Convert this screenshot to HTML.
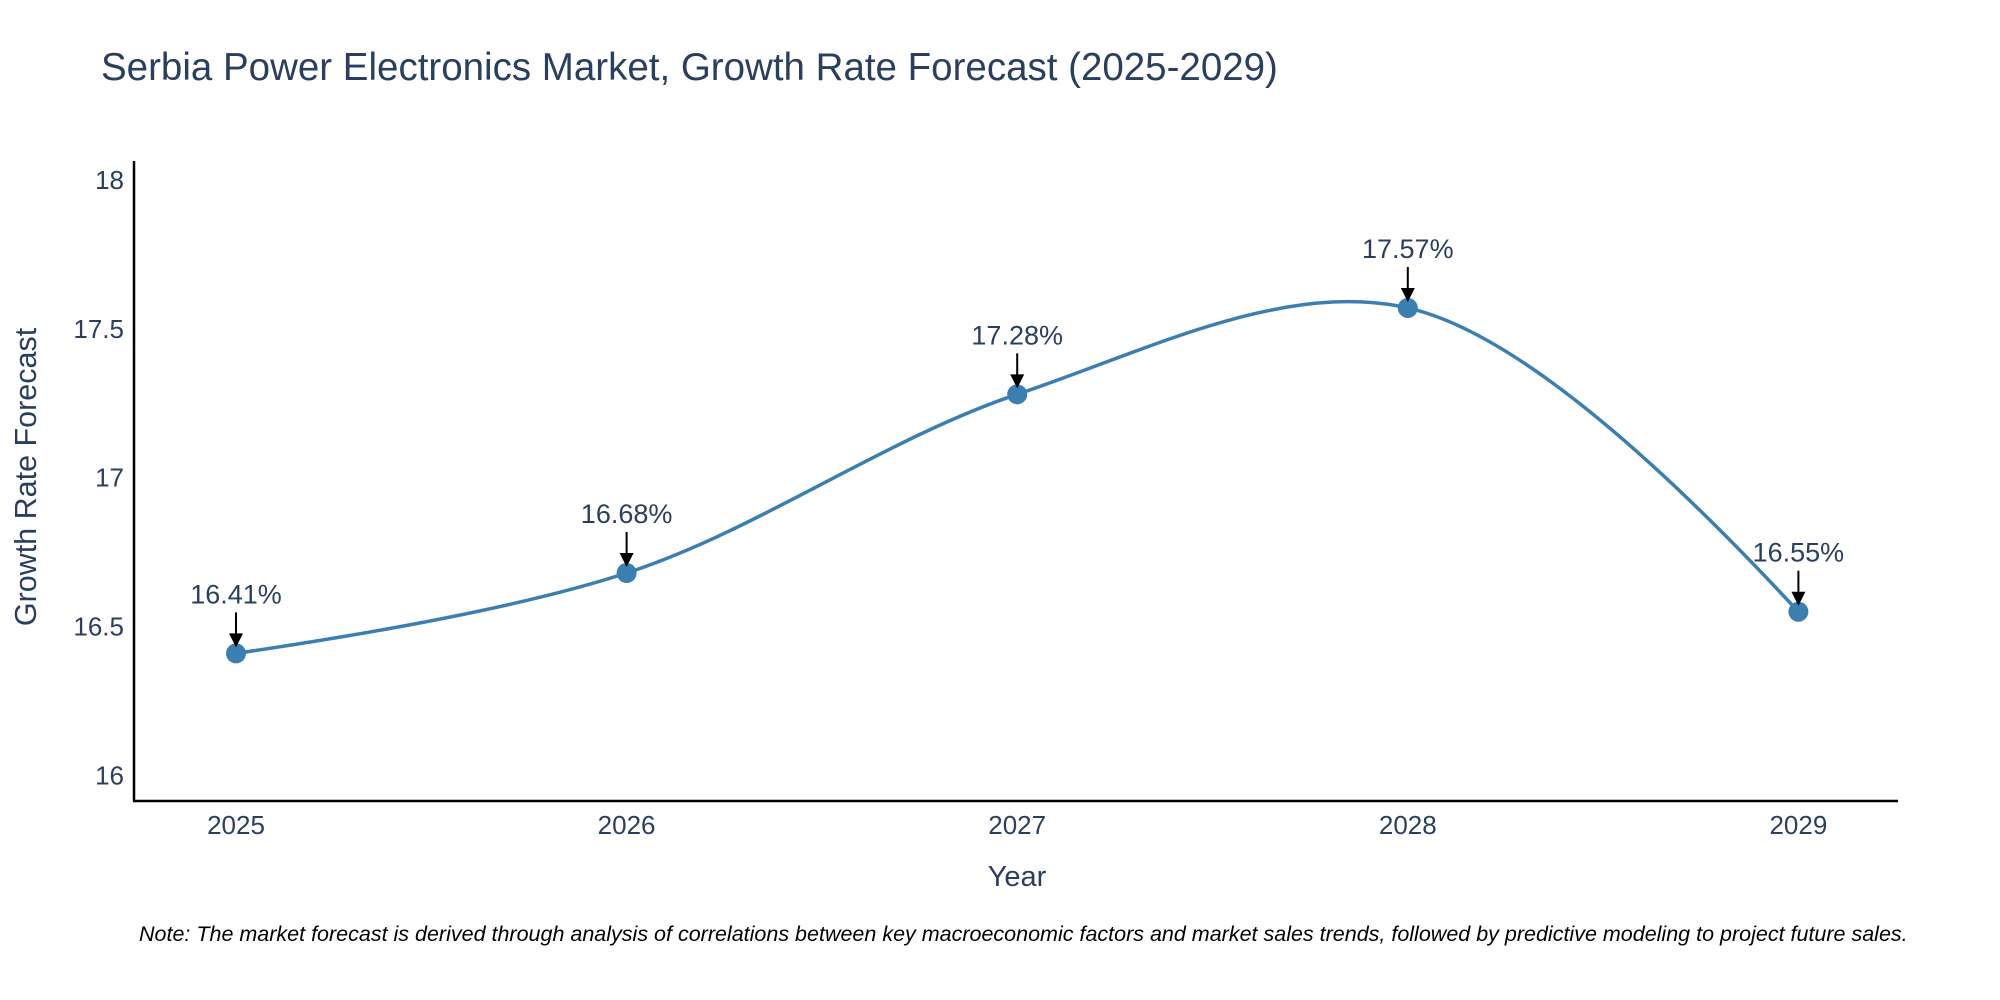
<!DOCTYPE html>
<html><head><meta charset="utf-8"><style>
html,body{margin:0;padding:0;background:#fff;overflow:hidden;}
svg{display:block;font-family:"Liberation Sans",sans-serif;}
</style></head><body>
<svg id="chart" width="2000" height="1000" viewBox="0 0 2000 1000">
<text x="101" y="80" font-size="38.5" fill="#2a3f5f">Serbia Power Electronics Market, Growth Rate Forecast (2025-2029)</text>
<g id="yticks"></g>
<g id="xticks"></g>
<line x1="134" y1="161" x2="134" y2="801" stroke="#000" stroke-width="2.5"/>
<line x1="133" y1="801" x2="1898" y2="801" stroke="#000" stroke-width="2.5"/>
<g id="plot"></g>
<text x="1017" y="886" font-size="29" fill="#2a3f5f" text-anchor="middle">Year</text>
<text transform="translate(36,477) rotate(-90)" font-size="30.5" fill="#2a3f5f" text-anchor="middle">Growth Rate Forecast</text>
<text x="139" y="941" font-size="21.5" font-style="italic" fill="#000">Note: The market forecast is derived through analysis of correlations between key macroeconomic factors and market sales trends, followed by predictive modeling to project future sales.</text>
</svg>
<script>
const years = [2025, 2026, 2027, 2028, 2029];
const growth = [16.41, 16.68, 17.28, 17.57, 16.55];
const yTicks = [16, 16.5, 17, 17.5, 18];
const yTickLabels = ["16", "16.5", "17", "17.5", "18"];

const NS = "http://www.w3.org/2000/svg";
function xs(v){ return 236 + (v - 2025) * 390.6; }
function ys(v){ return 775.5 - (v - 16) * 297.8; }
function mk(tag, attrs, parent){
  const e = document.createElementNS(NS, tag);
  for (const k in attrs) e.setAttribute(k, attrs[k]);
  parent.appendChild(e); return e;
}
const yt = document.getElementById('yticks');
yTicks.forEach((t,i)=>{
  const e = mk('text',{x:124,y:ys(t)+9,'font-size':26,fill:'#2a3f5f','text-anchor':'end'},yt);
  
  
  e.textContent = yTickLabels[i];
});
const xt = document.getElementById('xticks');
years.forEach(y=>{
  const e = mk('text',{x:xs(y),y:834,'font-size':26,fill:'#2a3f5f','text-anchor':'middle'},xt);
  
  
  e.textContent = String(y);
});
const pts = years.map((y,i)=>[xs(y), ys(growth[i])]);
function tangent(p0,p1,p2){
  const d1x=p0[0]-p1[0], d1y=p0[1]-p1[1], d2x=p2[0]-p1[0], d2y=p2[1]-p1[1];
  const d1a=Math.pow(d1x*d1x+d1y*d1y,0.25), d2a=Math.pow(d2x*d2x+d2y*d2y,0.25);
  const nx=(d2a*d2a*d1x-d1a*d1a*d2x), ny=(d2a*d2a*d1y-d1a*d1a*d2y);
  const den1=3*d2a*(d1a+d2a), den2=3*d1a*(d1a+d2a);
  return [[p1[0]+nx/den1,p1[1]+ny/den1],[p1[0]-nx/den2,p1[1]-ny/den2]];
}
const tg=[];
for(let i=1;i<pts.length-1;i++) tg.push(tangent(pts[i-1],pts[i],pts[i+1]));
let d='M'+pts[0]+'Q'+tg[0][0]+' '+pts[1];
for(let i=2;i<pts.length-1;i++) d+='C'+tg[i-2][1]+' '+tg[i-1][0]+' '+pts[i];
d+='Q'+tg[pts.length-3][1]+' '+pts[pts.length-1];
const plot=document.getElementById('plot');
const line=mk('path',{d:d,fill:'none',stroke:'#3b7fb0','stroke-width':3.5},plot);


pts.forEach((p,i)=>{
  const c=mk('circle',{cx:p[0],cy:p[1],r:10,fill:'#3b7fb0'},plot);
  
  
  const a=mk('line',{x1:p[0],y1:p[1]-41,x2:p[0],y2:p[1]-18,stroke:'#000','stroke-width':2},plot);
  
  
  const h=mk('polygon',{points:(p[0]-7)+','+(p[1]-20)+' '+(p[0]+7)+','+(p[1]-20)+' '+p[0]+','+(p[1]-6),fill:'#000'},plot);
  
  
  const t=mk('text',{x:p[0],y:p[1]-50,'font-size':27,fill:'#2a3f5f','text-anchor':'middle'},plot);
  
  
  t.textContent=growth[i].toFixed(2)+'%';
});
</script>
</body></html>
